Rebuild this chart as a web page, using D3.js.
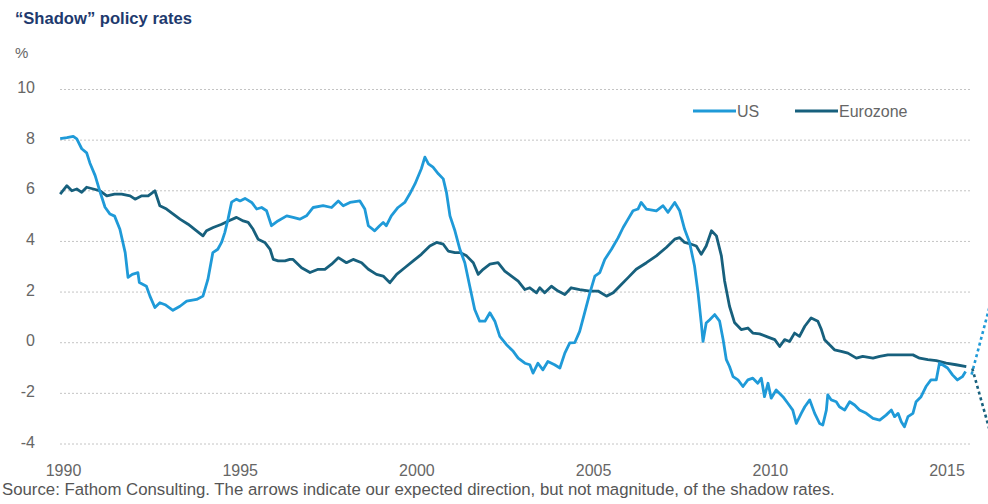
<!DOCTYPE html>
<html>
<head>
<meta charset="utf-8">
<script src="https://cdn.jsdelivr.net/npm/d3@7"></script>
<style>
  html, body { margin: 0; padding: 0; background: #fff; }
  svg { display: block; font-family: "Liberation Sans", Arial, Helvetica, sans-serif; }
</style>
</head>
<body>
<svg id="chart" width="988" height="504"></svg>
<script>
const title = "\u201CShadow\u201D policy rates";
const unitLabel = "%";
const sourceText = "Source: Fathom Consulting. The arrows indicate our expected direction, but not magnitude, of the shadow rates.";
const yTicks = [10, 8, 6, 4, 2, 0, -2, -4];
const xTicks = [1990, 1995, 2000, 2005, 2010, 2015];
const seriesNames = ["US", "Eurozone"];

const usYears = [1989.92,1990.11,1990.29,1990.39,1990.53,1990.67,1990.76,1990.91,1991.05,1991.19,1991.33,1991.46,1991.61,1991.76,1991.84,1991.96,1992.12,1992.16,1992.36,1992.46,1992.6,1992.74,1992.89,1993.11,1993.31,1993.5,1993.78,1993.96,1994.1,1994.24,1994.38,1994.49,1994.58,1994.67,1994.77,1994.91,1995.01,1995.15,1995.34,1995.48,1995.62,1995.76,1995.9,1996.08,1996.33,1996.51,1996.7,1996.89,1997.08,1997.36,1997.6,1997.79,1997.93,1998.12,1998.4,1998.54,1998.64,1998.82,1998.96,1999.06,1999.15,1999.29,1999.48,1999.67,1999.81,1999.96,2000.14,2000.24,2000.34,2000.47,2000.62,2000.76,2000.85,2000.95,2001.09,2001.23,2001.37,2001.51,2001.65,2001.79,2001.94,2002.08,2002.22,2002.36,2002.55,2002.74,2002.88,2003.07,2003.21,2003.3,2003.44,2003.58,2003.72,2003.91,2004.06,2004.2,2004.34,2004.48,2004.62,2004.76,2004.91,2005.05,2005.19,2005.33,2005.52,2005.71,2005.85,2005.99,2006.13,2006.27,2006.36,2006.51,2006.79,2006.98,2007.12,2007.31,2007.45,2007.59,2007.73,2007.87,2007.97,2008.06,2008.11,2008.2,2008.3,2008.44,2008.58,2008.68,2008.77,2008.86,2008.96,2009.1,2009.24,2009.38,2009.52,2009.66,2009.76,2009.85,2009.95,2010.04,2010.18,2010.37,2010.51,2010.65,2010.75,2010.89,2010.99,2011.13,2011.27,2011.41,2011.5,2011.6,2011.64,2011.74,2011.88,2011.97,2012.12,2012.26,2012.4,2012.54,2012.73,2012.92,2013.11,2013.29,2013.44,2013.53,2013.63,2013.72,2013.81,2013.91,2014.05,2014.14,2014.28,2014.42,2014.56,2014.71,2014.8,2014.89,2015.03,2015.17,2015.31,2015.45,2015.54];
const usValues = [8.06,8.1,8.15,8.05,7.66,7.5,7.1,6.6,5.95,5.35,5.08,5.0,4.48,3.56,2.58,2.7,2.77,2.38,2.23,1.84,1.39,1.58,1.5,1.28,1.44,1.64,1.71,1.84,2.5,3.56,3.69,3.97,4.36,4.88,5.55,5.67,5.6,5.7,5.54,5.28,5.34,5.21,4.62,4.81,5.01,4.95,4.88,5.01,5.34,5.41,5.34,5.6,5.41,5.54,5.6,5.28,4.62,4.42,4.62,4.75,4.62,5.01,5.34,5.54,5.87,6.27,6.87,7.33,7.06,6.93,6.67,6.47,5.94,5.01,4.42,3.69,3.16,2.23,1.31,0.85,0.85,1.18,0.85,0.25,-0.08,-0.34,-0.61,-0.81,-0.87,-1.2,-0.81,-1.07,-0.74,-0.87,-1.0,-0.41,-0.01,0,0.45,1.18,1.97,2.63,2.77,3.29,3.69,4.15,4.55,4.88,5.21,5.28,5.54,5.28,5.21,5.41,5.15,5.54,5.21,4.48,3.96,3.03,1.97,0.78,0.05,0.78,0.91,1.11,0.85,0.12,-0.67,-0.94,-1.34,-1.47,-1.73,-1.47,-1.4,-1.6,-1.4,-2.13,-1.6,-2.19,-1.87,-2.13,-2.39,-2.66,-3.19,-2.79,-2.53,-2.26,-2.79,-3.19,-3.25,-2.66,-2.06,-2.26,-2.33,-2.53,-2.66,-2.33,-2.46,-2.66,-2.79,-2.99,-3.06,-2.86,-2.66,-2.92,-2.79,-3.12,-3.32,-2.92,-2.79,-2.33,-2.13,-1.73,-1.47,-1.47,-0.81,-0.87,-1.0,-1.27,-1.47,-1.34,-1.14];

const ezYears = [1989.92,1990.11,1990.25,1990.39,1990.53,1990.67,1990.86,1991.05,1991.24,1991.46,1991.66,1991.9,1992.04,1992.23,1992.41,1992.6,1992.74,1992.93,1993.12,1993.31,1993.54,1993.78,1993.96,1994.06,1994.25,1994.49,1994.68,1994.91,1995.1,1995.24,1995.38,1995.52,1995.71,1995.86,1995.95,1996.09,1996.28,1996.42,1996.51,1996.75,1996.99,1997.22,1997.41,1997.6,1997.79,1998.02,1998.21,1998.45,1998.64,1998.87,1999.06,1999.25,1999.44,1999.67,1999.91,2000.14,2000.38,2000.57,2000.76,2000.9,2001.09,2001.23,2001.42,2001.61,2001.75,2001.89,2002.08,2002.31,2002.5,2002.69,2002.88,2003.07,2003.21,2003.4,2003.49,2003.63,2003.82,2004.01,2004.2,2004.38,2004.62,2004.91,2005.14,2005.38,2005.57,2005.75,2005.99,2006.22,2006.51,2006.79,2007.07,2007.31,2007.45,2007.59,2007.78,2007.92,2008.06,2008.2,2008.35,2008.49,2008.63,2008.72,2008.86,2009.0,2009.19,2009.38,2009.52,2009.71,2009.95,2010.14,2010.28,2010.42,2010.56,2010.7,2010.84,2010.99,2011.17,2011.36,2011.46,2011.55,2011.69,2011.83,2012.02,2012.21,2012.45,2012.63,2012.92,2013.11,2013.34,2013.58,2013.81,2014.05,2014.24,2014.47,2014.71,2014.99,2015.27,2015.56];
const ezValues = [5.87,6.2,6.0,6.07,5.94,6.14,6.07,6.0,5.8,5.87,5.87,5.8,5.67,5.8,5.8,6.0,5.41,5.28,5.08,4.88,4.68,4.42,4.22,4.42,4.55,4.68,4.81,4.95,4.81,4.75,4.48,4.09,3.96,3.69,3.29,3.23,3.23,3.29,3.29,2.96,2.77,2.9,2.9,3.1,3.36,3.16,3.29,3.16,2.9,2.7,2.63,2.37,2.7,2.96,3.23,3.49,3.82,3.96,3.89,3.62,3.56,3.56,3.43,3.16,2.7,2.9,3.1,3.16,2.83,2.63,2.43,2.1,2.17,1.97,2.17,1.97,2.23,2.04,1.9,2.17,2.1,2.04,2.04,1.84,1.97,2.23,2.57,2.9,3.16,3.43,3.76,4.09,4.15,3.96,3.89,3.82,3.49,3.82,4.42,4.22,3.43,2.45,1.44,0.8,0.52,0.58,0.38,0.35,0.22,0.12,-0.15,0.12,0.05,0.38,0.25,0.65,0.98,0.85,0.52,0.12,-0.08,-0.28,-0.34,-0.41,-0.61,-0.54,-0.61,-0.54,-0.48,-0.48,-0.48,-0.48,-0.61,-0.67,-0.71,-0.81,-0.87,-0.94];

const colors = { US: "#1f9ad8", Eurozone: "#17607d" };

const svg = d3.select("#chart");
const x = d3.scaleLinear().domain([1990, 2015]).range([63, 946.5]);
const y = d3.scaleLinear().domain([-4, 10]).range([444, 89.5]);
const gridX1 = 60, gridX2 = 972;
const labelFont = "Liberation Sans, Arial, sans-serif";

// title & unit
svg.append("text").attr("x", 15).attr("y", 24)
  .attr("font-size", 16.6).attr("font-weight", "bold").attr("fill", "#1e3a6e")
  .text(title);
svg.append("text").attr("x", 15).attr("y", 58)
  .attr("font-size", 15).attr("fill", "#666").text(unitLabel);

// gridlines
svg.append("g").selectAll("line").data(yTicks).join("line")
  .attr("x1", gridX1).attr("x2", gridX2)
  .attr("y1", d => y(d)).attr("y2", d => y(d))
  .attr("stroke", "#c4c4c4").attr("stroke-width", 1)
  .attr("stroke-dasharray", "2,2");

// y axis labels (plain hyphen for negatives, as in the original)
const yAxis = d3.axisLeft(y).tickValues(yTicks).tickFormat(d => String(d)).tickSize(0).tickPadding(0);
const gy = svg.append("g").attr("transform", "translate(35,-2)").call(yAxis);
gy.select(".domain").remove();
gy.selectAll("text").attr("font-size", 16).attr("fill", "#666")
  .attr("font-family", labelFont);

// x axis labels
const xAxis = d3.axisBottom(x).tickValues(xTicks).tickFormat(d => String(d)).tickSize(0).tickPadding(0);
const gx = svg.append("g").attr("transform", "translate(0,465)").call(xAxis);
gx.select(".domain").remove();
gx.selectAll("text").attr("font-size", 16).attr("fill", "#666")
  .attr("font-family", labelFont);

// lines
const lineGen = d3.line().x(d => x(d[0])).y(d => y(d[1]));
const usData = d3.zip(usYears, usValues);
const ezData = d3.zip(ezYears, ezValues);
svg.append("path").datum(ezData).attr("d", lineGen)
  .attr("fill", "none").attr("stroke", colors.Eurozone).attr("stroke-width", 2.8)
  .attr("stroke-linejoin", "round");
svg.append("path").datum(usData).attr("d", lineGen)
  .attr("fill", "none").attr("stroke", colors.US).attr("stroke-width", 2.8)
  .attr("stroke-linejoin", "round");

// direction arrows (dotted), starting from last points
const usLast = usData[usData.length - 1];
const ezLast = ezData[ezData.length - 1];
svg.append("line")
  .attr("x1", x(usLast[0]) + 6).attr("y1", y(usLast[1]) + 3)
  .attr("x2", x(usLast[0]) + 28).attr("y2", y(usLast[1]) - 80)
  .attr("stroke", colors.US).attr("stroke-width", 2.6).attr("stroke-dasharray", "3,3");
svg.append("line")
  .attr("x1", x(ezLast[0]) + 6).attr("y1", y(ezLast[1]) + 2)
  .attr("x2", x(ezLast[0]) + 24).attr("y2", y(ezLast[1]) + 66)
  .attr("stroke", colors.Eurozone).attr("stroke-width", 2.6).attr("stroke-dasharray", "3,3");

// legend
const legend = [{ name: seriesNames[0], x: 693 }, { name: seriesNames[1], x: 795 }];
const lg = svg.append("g");
legend.forEach(l => {
  lg.append("line").attr("x1", l.x).attr("x2", l.x + 43).attr("y1", 111).attr("y2", 111)
    .attr("stroke", colors[l.name]).attr("stroke-width", 2.8);
  lg.append("text").attr("x", l.x + 44).attr("y", 117)
    .attr("font-size", 16).attr("fill", "#666").text(l.name);
});

// source
svg.append("text").attr("x", 2).attr("y", 495)
  .attr("font-size", 16.8).attr("fill", "#555").text(sourceText);
</script>
</body>
</html>
